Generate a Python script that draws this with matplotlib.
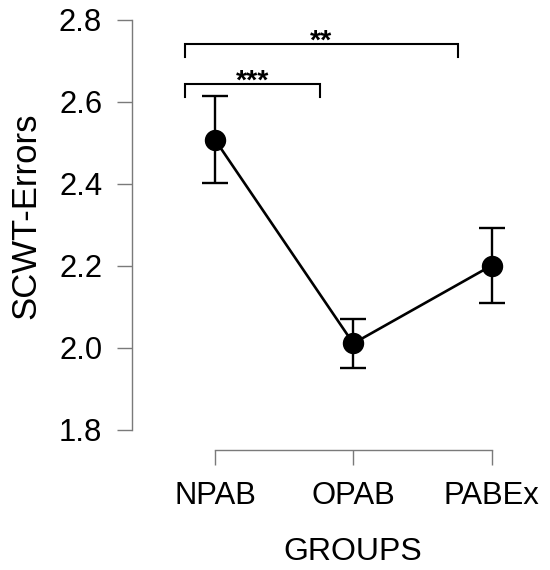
import matplotlib
matplotlib.use("Agg")
import matplotlib.pyplot as plt

groups = ["NPAB", "OPAB", "PABEx"]
means = [2.508, 2.011, 2.201]
upper = [2.615, 2.071, 2.293]
lower = [2.403, 1.951, 2.110]
yticks = [1.8, 2.0, 2.2, 2.4, 2.6, 2.8]
comparisons = [(0, 1, "***", 2.644), (0, 2, "**", 2.741)]

plt.rcParams['font.family'] = ['Liberation Sans', 'DejaVu Sans']

fig = plt.figure(figsize=(5.5, 5.7), dpi=100)
ax = fig.add_axes([0.24, 0.2105, 0.7418, 0.776])

x = list(range(len(groups)))
yerr = [[m - l for m, l in zip(means, lower)], [u - m for m, u in zip(means, upper)]]
ax.errorbar(x, means, yerr=yerr, fmt='-o', color='black', ecolor='black',
            lw=1.9, elinewidth=1.7, capsize=9.7, capthick=1.7,
            markersize=14.4, zorder=3)

for i, j, lab, h in comparisons:
    x0, x1 = i - 0.22, j - 0.24
    ax.plot([x0, x0, x1, x1], [h - 0.032, h, h, h - 0.032], color='black', lw=1.5,
            solid_joinstyle='miter')
    ax.text((x0 + x1) / 2, h - 0.011, lab, ha='center', va='baseline', fontsize=20.5,
            fontweight='bold')

ax.set_xlim(-0.6, 2.35)
ax.set_ylim(1.751, 2.83)
for s in ['top', 'right']:
    ax.spines[s].set_visible(False)
ax.spines['left'].set_bounds(1.8, 2.8)
ax.spines['bottom'].set_bounds(0, 2)
for s in ['left', 'bottom']:
    ax.spines[s].set_color('#7a7a7a')
    ax.spines[s].set_linewidth(1.0)

ax.set_yticks(yticks)
ax.set_yticklabels([f"{v:.1f}" for v in yticks])
ax.set_xticks(x)
ax.set_xticklabels(groups)
ax.tick_params(axis='both', colors='#7a7a7a', labelcolor='black', labelsize=22.3,
               length=11, width=1.0, direction='out')
ax.tick_params(axis='y', pad=10.5)
ax.tick_params(axis='x', pad=11)

ax.set_xlabel("GROUPS", fontsize=23)
ax.set_ylabel("SCWT-Errors", fontsize=25)
ax.xaxis.set_label_coords(0.5417, -0.197)
ax.yaxis.set_label_coords(-0.2206, 0.529)

fig.savefig("out.png", dpi=100)
